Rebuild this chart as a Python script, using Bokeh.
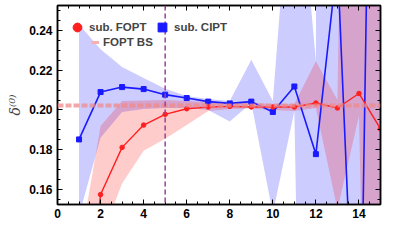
from bokeh.plotting import figure
from bokeh.models import (ColumnDataSource, Span, Legend, LegendItem, LinearAxis,
                          FixedTicker, Range1d, CustomJSTickFormatter)
from bokeh.embed import file_html
from bokeh.resources import INLINE

# ---------------- data ----------------
orders = [1, 2, 3, 4, 5, 6, 7, 8, 9, 10, 11, 12, 13, 14, 15]

sub_fopt = [0.06, 0.1575, 0.1812, 0.1924, 0.1978, 0.2006, 0.2015, 0.2018,
            0.2015, 0.2015, 0.2015, 0.2035, 0.2010, 0.2083, 0.1905]
fopt_upper = [0.129, 0.192, 0.2045, 0.2047, 0.2050, 0.2045, 0.2040, 0.2035,
              0.2035, 0.2030, 0.2030, 0.2245, 0.2050, 0.88, 0.88]
fopt_lower = [-0.1, 0.135, 0.163, 0.1795, 0.1855, 0.1925, 0.1995, 0.2005,
              0.2008, 0.2000, 0.1995, 0.2010, 0.150, 0.197, -0.3]

sub_cipt = [0.1852, 0.2090, 0.2115, 0.2105, 0.2077, 0.2060, 0.2042, 0.2033,
            0.2042, 0.1990, 0.2118, 0.1778, 0.275, 0.02, 0.70]
cipt_upper = [0.243, 0.2305, 0.2216, 0.2161, 0.2107, 0.2070, 0.2055, 0.2045,
              0.2253, 0.2045, 0.345, 0.2245, 5.0, 5.0, 5.0]
cipt_lower = [0.147, 0.186, 0.199, 0.2005, 0.2010, 0.2010, 0.2000, 0.1942,
              0.2035, 0.148, 0.1995, -0.4, -0.4, -0.4, -0.4]

fopt_bs = 0.2022
n_cut = 5

x_ticks = [0, 2, 4, 6, 8, 10, 12, 14]
y_ticks = [0.16, 0.18, 0.20, 0.22, 0.24]

FONT = "Liberation Sans"
RED = "#ff1f1f"
BLUE = "#1a1aff"

p = figure(width=390, height=234, output_backend="svg", toolbar_location=None,
           x_range=Range1d(0, 15), y_range=Range1d(0.1525, 0.2525),
           min_border_left=57, min_border_right=10, min_border_top=5,
           min_border_bottom=30)
p.grid.visible = False
p.outline_line_color = "black"
p.outline_line_width = 1.5
p.background_fill_color = "white"
p.border_fill_color = "white"

src = ColumnDataSource(dict(k=orders, fopt=sub_fopt, fu=fopt_upper, fl=fopt_lower,
                            cipt=sub_cipt, cu=cipt_upper, cl=cipt_lower))

# bands
p.varea(x="k", y1="cl", y2="cu", source=src, fill_color="blue", fill_alpha=0.2)
p.varea(x="k", y1="fl", y2="fu", source=src, fill_color="red", fill_alpha=0.2)

# FOPT BS line
p.add_layout(Span(location=fopt_bs, dimension="width", line_color="#f08a8a",
                  line_alpha=0.75, line_width=4, line_dash="6 2"))
# vertical cut
p.add_layout(Span(location=n_cut, dimension="height", line_color="#9e3f9e",
                  line_width=1.5, line_dash="5 3"))

# series
p.line("k", "cipt", source=src, line_color=BLUE, line_width=1.6)
p.scatter("k", "cipt", source=src, marker="square", size=5, color=BLUE)
p.line("k", "fopt", source=src, line_color=RED, line_width=1.4)
p.scatter("k", "fopt", source=src, marker="circle", size=4.5, color=RED)

# legend-only renderers (a single NaN point, never drawn in the plot)
nan_src = ColumnDataSource(dict(x=[float("nan")], y=[float("nan")]))
lg_fopt = p.scatter("x", "y", source=nan_src, marker="circle", size=10, color=RED)
lg_cipt = p.scatter("x", "y", source=nan_src, marker="square", size=8, color=BLUE)
lg_bs = p.line("x", "y", source=nan_src, line_color="#f7b0b0", line_width=3)

def mk_legend(label, rend, loc, gw, gh, standoff):
    lg = Legend(items=[LegendItem(label=label, renderers=[rend])], location=loc,
                padding=0, margin=0, spacing=0, glyph_width=gw, glyph_height=gh,
                label_height=12, label_width=10, label_standoff=standoff,
                label_text_font=FONT, label_text_font_style="bold",
                label_text_font_size="11.5px", border_line_color=None,
                background_fill_alpha=0)
    p.add_layout(lg, "center")

mk_legend("sub. FOPT", lg_fopt, (9, 166), 22, 22, 1)
mk_legend("sub. CIPT", lg_cipt, (94, 166), 22, 22, 1)
mk_legend("FOPT BS", lg_bs, (34, 156), 8, 12, 4)

# axes styling
def style_axis(ax, labels=True):
    ax.axis_line_color = "black"
    ax.axis_line_width = 1.5
    ax.major_tick_in = 5
    ax.major_tick_out = 0
    ax.minor_tick_in = 3
    ax.minor_tick_out = 0
    ax.major_tick_line_color = "black"
    ax.minor_tick_line_color = "black"
    ax.major_label_text_font = FONT
    ax.major_label_text_font_style = "bold"
    ax.major_label_text_font_size = "12px"
    ax.major_label_text_color = "black"
    if not labels:
        ax.formatter = CustomJSTickFormatter(code="return '';")
        ax.major_label_standoff = 0

xa = p.xaxis[0]
xa.ticker = FixedTicker(ticks=x_ticks, minor_ticks=[i * 0.5 for i in range(0, 31)])
style_axis(xa)
xa.major_label_standoff = 4

ya = p.yaxis[0]
ya.ticker = FixedTicker(ticks=y_ticks, minor_ticks=[0.155 + i * 0.005 for i in range(0, 20)])
style_axis(ya)
ya.major_label_standoff = 5
ya.axis_label = "δ⁽⁰⁾"
ya.axis_label_text_font = "DejaVu Serif"
ya.axis_label_text_font_style = "italic"
ya.axis_label_text_font_size = "14px"
ya.axis_label_standoff = 3
ya.major_label_overrides = {t: f"{t:.2f}" for t in y_ticks}

top = LinearAxis(ticker=FixedTicker(ticks=x_ticks, minor_ticks=[i * 0.5 for i in range(0, 31)]))
style_axis(top, labels=False)
p.add_layout(top, "above")
right = LinearAxis(ticker=FixedTicker(ticks=y_ticks, minor_ticks=[0.155 + i * 0.005 for i in range(0, 20)]))
style_axis(right, labels=False)
p.add_layout(right, "right")

open("out.html", "w").write(file_html(p, INLINE))
